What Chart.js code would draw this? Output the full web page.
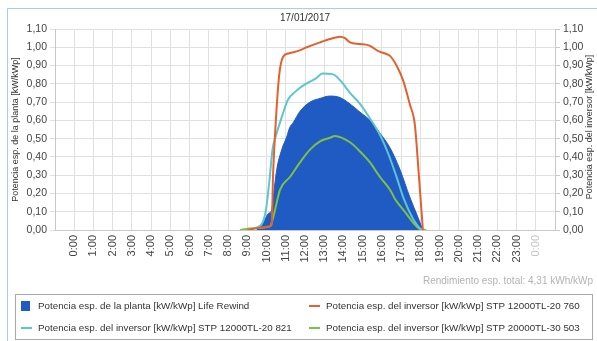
<!DOCTYPE html>
<html>
<head>
    <title>Potencia específica 17/01/2017</title>
    <script src="https://cdn.jsdelivr.net/npm/chart.js"></script>
    <style>
        body { margin: 0; background: #fff; }
        #wrap { position: relative; width: 597px; height: 341px; }
    </style>
</head>
<body>
<div id="wrap"><canvas id="powerChart"></canvas></div>

<script>
    const chartTitle = '17/01/2017';
    const totalYieldText = 'Rendimiento esp. total: 4,31 kWh/kWp';
    const leftAxisTitle = 'Potencia esp. de la planta [kW/kWp]';
    const rightAxisTitle = 'Potencia esp. del inversor [kW/kWp]';

    const hourLabels = ['0:00', '1:00', '2:00', '3:00', '4:00', '5:00', '6:00', '7:00', '8:00',
        '9:00', '10:00', '11:00', '12:00', '13:00', '14:00', '15:00', '16:00', '17:00',
        '18:00', '19:00', '20:00', '21:00', '22:00', '23:00', '0:00'];
    const yTickLabels = ['0,00', '0,10', '0,20', '0,30', '0,40', '0,50', '0,60',
        '0,70', '0,80', '0,90', '1,00', '1,10'];

    const seriesNames = [
        'Potencia esp. de la planta [kW/kWp] Life Rewind',
        'Potencia esp. del inversor [kW/kWp] STP 12000TL-20 760',
        'Potencia esp. del inversor [kW/kWp] STP 12000TL-20 821',
        'Potencia esp. del inversor [kW/kWp] STP 20000TL-30 503'
    ];
    const seriesColors = ['#1f5bc2', '#e4602c', '#5cc6cf', '#7cc243'];

    // time in hours of the day, power in kW/kWp
    const plantTime  = [9.49, 9.83, 10.09, 10.27, 10.35, 10.53, 10.79, 11.05, 11.2, 11.4, 11.74, 12.26,
        12.78, 13.3, 13.82, 14.34, 14.86, 15.38, 15.9, 16.42, 16.94, 17.45, 17.87, 18.13];
    const plantPower = [0, 0.04, 0.09, 0.11, 0.18, 0.33, 0.44, 0.51, 0.56, 0.59, 0.65, 0.70,
        0.72, 0.733, 0.725, 0.69, 0.645, 0.60, 0.53, 0.45, 0.33, 0.18, 0.07, 0];

    const inv760Time  = [9.0, 9.5, 10.2, 10.27, 10.34, 10.44, 10.66, 10.87, 11.13, 11.65, 12.09, 12.78,
        13.3, 13.82, 14.08, 14.34, 14.86, 15.38, 15.79, 16.16, 16.42, 16.76, 17.11, 17.45,
        17.71, 17.92, 18.13];
    const inv760Power = [0, 0.01, 0.02, 0.03, 0.3, 0.52, 0.85, 0.95, 0.966, 0.98, 1.0, 1.027,
        1.045, 1.058, 1.05, 1.027, 1.018, 1.008, 0.98, 0.966, 0.953, 0.90, 0.816, 0.688,
        0.578, 0.30, 0];

    const inv821Time  = [9.0, 9.4, 9.79, 9.97, 10.14, 10.31, 10.5, 10.83, 11.1, 11.53, 12.05, 12.57,
        12.91, 13.43, 13.82, 14.34, 14.86, 15.38, 15.9, 16.32, 16.73, 17.14, 17.62, 17.97, 18.13];
    const inv821Power = [0, 0.01, 0.04, 0.11, 0.26, 0.44, 0.52, 0.63, 0.71, 0.76, 0.80, 0.83,
        0.856, 0.853, 0.82, 0.75, 0.69, 0.61, 0.52, 0.42, 0.30, 0.17, 0.06, 0.01, 0];

    const inv503Time  = [8.62, 9.31, 10.18, 10.35, 10.7, 11.22, 11.74, 12.26, 12.78, 13.3, 13.56,
        14.34, 14.86, 15.38, 15.9, 16.42, 16.68, 17.19, 17.71, 17.97, 18.31];
    const inv503Power = [0, 0.01, 0.02, 0.07, 0.22, 0.29, 0.37, 0.44, 0.485, 0.505, 0.515,
        0.48, 0.43, 0.37, 0.29, 0.22, 0.17, 0.10, 0.03, 0.005, 0];

    function toPoints(times, values) {
        return times.map((t, i) => ({ x: t, y: values[i] }));
    }

    const FONT = 'Liberation Sans';

    const extras = {
        id: 'extras',
        beforeDraw(chart) {
            const c = chart.ctx;
            c.save();
            c.fillStyle = '#fff';
            c.fillRect(0, 0, chart.width, chart.height);
            // outer frame
            c.strokeStyle = '#a9cbec';
            c.lineWidth = 1;
            c.beginPath();
            c.moveTo(7.5, chart.height);
            c.lineTo(7.5, 8.5);
            c.lineTo(chart.width, 8.5);
            c.stroke();
            c.restore();
        },
        afterDraw(chart) {
            const c = chart.ctx;
            c.save();
            c.fillStyle = '#333';
            c.font = '10px "' + FONT + '"';
            c.textAlign = 'center';
            c.textBaseline = 'middle';
            c.fillText(chartTitle, 305, 18);

            // right axis title, reads bottom to top
            c.save();
            c.font = '9px "' + FONT + '"';
            c.translate(590, 127);
            c.rotate(-Math.PI / 2);
            c.fillText(rightAxisTitle, 0, 0);
            c.restore();

            c.fillStyle = '#b3b3b3';
            c.textAlign = 'right';
            c.fillText(totalYieldText, 593, 281);

            // legend box
            c.font = '9.8px "' + FONT + '"';
            c.strokeStyle = '#a8a8a8';
            c.strokeRect(15.5, 294.5, 577, 45);
            c.textAlign = 'left';
            const cols = [21, 309];
            const rows = [306, 328];
            const order = [[0, 0, 0], [1, 1, 0], [2, 0, 1], [3, 1, 1]];
            order.forEach(([s, col, row]) => {
                const x = cols[col], y = rows[row];
                if (s === 0) {
                    c.fillStyle = seriesColors[0];
                    c.fillRect(x, y - 5, 9, 10);
                } else {
                    c.strokeStyle = seriesColors[s];
                    c.lineWidth = 2;
                    c.beginPath();
                    c.moveTo(x, y);
                    c.lineTo(x + 11, y);
                    c.stroke();
                }
                c.fillStyle = '#333';
                c.fillText(seriesNames[s], x + 17, y);
            });
            c.restore();
        }
    };

    const ctx = document.getElementById('powerChart').getContext('2d');
    const powerChart = new Chart(ctx, {
        type: 'line',
        data: {
            datasets: [
                {
                    label: seriesNames[0],
                    data: toPoints(plantTime, plantPower),
                    borderColor: seriesColors[0],
                    backgroundColor: seriesColors[0],
                    borderWidth: 1,
                    fill: 'origin',
                    order: 4,
                    yAxisID: 'y'
                },
                {
                    label: seriesNames[1],
                    data: toPoints(inv760Time, inv760Power),
                    borderColor: seriesColors[1],
                    borderWidth: 2,
                    fill: false,
                    yAxisID: 'y1'
                },
                {
                    label: seriesNames[2],
                    data: toPoints(inv821Time, inv821Power),
                    borderColor: seriesColors[2],
                    borderWidth: 2,
                    fill: false,
                    yAxisID: 'y1'
                },
                {
                    label: seriesNames[3],
                    data: toPoints(inv503Time, inv503Power),
                    borderColor: seriesColors[3],
                    borderWidth: 2,
                    fill: false,
                    yAxisID: 'y1'
                }
            ]
        },
        options: {
            responsive: true,
            maintainAspectRatio: false,
            animation: false,
            elements: { point: { radius: 0 }, line: { cubicInterpolationMode: 'monotone' } },
            layout: { padding: { top: 29, left: 0, right: 0, bottom: 0 } },
            plugins: {
                legend: { display: false },
                tooltip: { enabled: false }
            },
            scales: {
                x: {
                    type: 'linear',
                    min: -1,
                    max: 25,
                    afterFit: s => { s.height = 111; },
                    grid: { color: '#e0e0e0', drawTicks: false },
                    border: { color: '#c8c8c8' },
                    ticks: {
                        stepSize: 1,
                        autoSkip: false,
                        maxTicksLimit: 40,
                        minRotation: 90,
                        maxRotation: 90,
                        padding: 5,
                        font: { family: FONT, size: 11 },
                        color: c => c.tick && c.tick.value === 24 ? '#c4c4c4' : '#444',
                        callback: v => (v >= 0 && v <= 24) ? hourLabels[v] : ''
                    }
                },
                y: {
                    position: 'left',
                    min: 0,
                    max: 1.1,
                    afterFit: s => { s.width = 55; },
                    grid: { color: '#e0e0e0', tickLength: 5 },
                    border: { color: '#c8c8c8' },
                    title: {
                        display: true,
                        text: leftAxisTitle,
                        color: '#333',
                        font: { family: FONT, size: 9 },
                        padding: { top: 10, bottom: 0 }
                    },
                    ticks: {
                        stepSize: 0.1,
                        padding: 3,
                        color: '#444',
                        font: { family: FONT, size: 10.5 },
                        callback: v => yTickLabels[Math.round(v * 10)]
                    }
                },
                y1: {
                    position: 'right',
                    min: 0,
                    max: 1.1,
                    afterFit: s => { s.width = 42; },
                    grid: { drawOnChartArea: false, color: '#c8c8c8', tickLength: 5 },
                    border: { color: '#c8c8c8' },
                    ticks: {
                        stepSize: 0.1,
                        padding: 3,
                        color: '#444',
                        font: { family: FONT, size: 10.5 },
                        callback: v => yTickLabels[Math.round(v * 10)]
                    }
                }
            }
        },
        plugins: [extras]
    });
</script>
</body>
</html>
